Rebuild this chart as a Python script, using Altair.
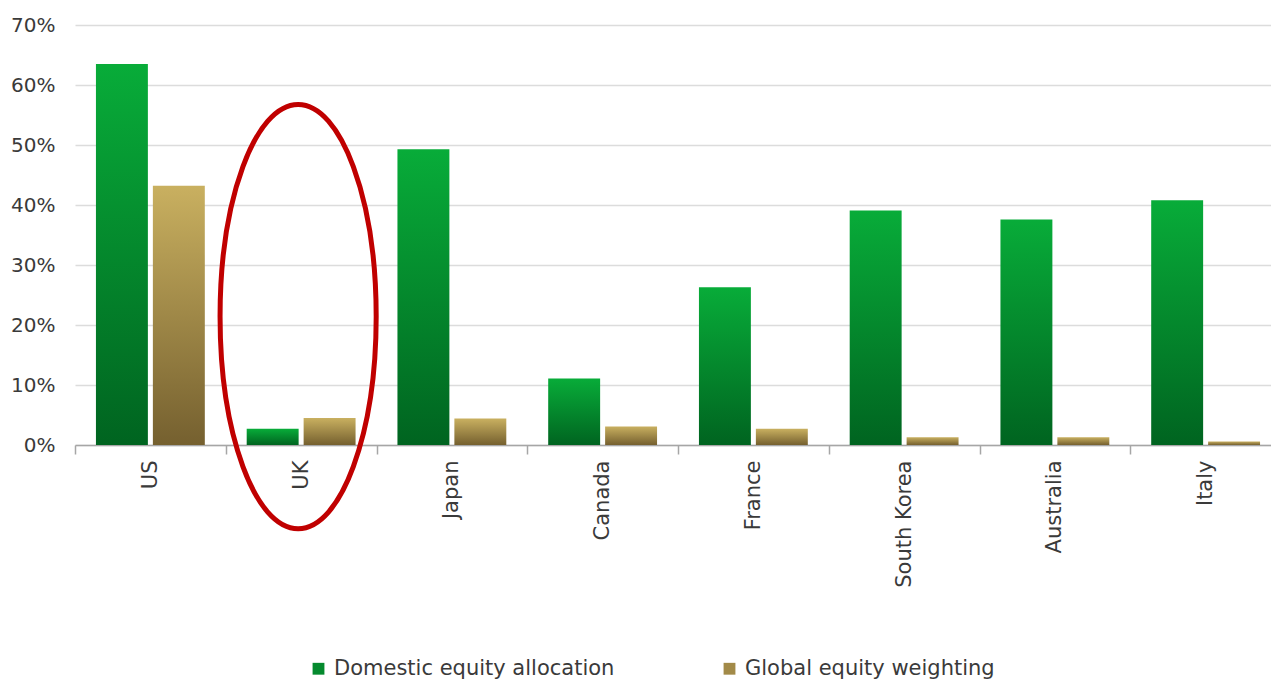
import altair as alt
import pandas as pd

countries = ["US", "UK", "Japan", "Canada", "France", "South Korea", "Australia", "Italy"]
domestic = [63.5, 2.7, 49.3, 11.1, 26.3, 39.1, 37.6, 40.8]
global_w = [43.2, 4.5, 4.4, 3.1, 2.7, 1.3, 1.3, 0.6]
series = ["Domestic equity allocation", "Global equity weighting"]
y_ticks = [0, 10, 20, 30, 40, 50, 60, 70]

# highlight ellipse annotation
highlight_country = ["UK"]
highlight_center = [21.4]

rows = []
for c, d, g in zip(countries, domestic, global_w):
    rows.append({"country": c, "series": series[0], "value": d})
    rows.append({"country": c, "series": series[1], "value": g})
df = pd.DataFrame(rows)
hl = pd.DataFrame({"country": highlight_country, "value": highlight_center})

FONT = "DejaVu Sans"
TXT = "#3a3a3a"

green_grad = alt.Gradient(
    gradient="linear",
    stops=[alt.GradientStop(color="#08AC39", offset=0),
           alt.GradientStop(color="#006420", offset=1)],
    x1=0, x2=0, y1=0, y2=1)
tan_grad = alt.Gradient(
    gradient="linear",
    stops=[alt.GradientStop(color="#C9B060", offset=0),
           alt.GradientStop(color="#75602F", offset=1)],
    x1=0, x2=0, y1=0, y2=1)

x_enc = alt.X("country:N", sort=countries, title=None,
              scale=alt.Scale(range=[0, 1206], paddingInner=0, paddingOuter=0),
              axis=alt.Axis(labelAngle=270, labelAlign="right", labelBaseline="middle",
                            labelFontSize=21, labelFont=FONT, labelColor=TXT,
                            labelPadding=6, tickBand="extent", tickSize=9,
                            tickColor="#A6A6A6", domainColor="#A6A6A6",
                            domainWidth=1.5, tickWidth=1.5, grid=False))
y_enc = alt.Y("value:Q", title=None,
              scale=alt.Scale(domain=[0, 70], nice=False),
              axis=alt.Axis(values=y_ticks, labelExpr="datum.value + '%'",
                            labelFontSize=20, labelFont=FONT, labelColor=TXT,
                            labelPadding=20, ticks=False, domain=False,
                            gridColor="#DCDCDC", gridWidth=1.5))
xo_enc = alt.XOffset("series:N", sort=series,
                     scale=alt.Scale(domain=series, paddingInner=0.0877, paddingOuter=0.368))

base = alt.Chart(df)

dom_bars = base.transform_filter(alt.datum.series == series[0]).mark_bar(
    fill=green_grad).encode(x=x_enc, xOffset=xo_enc, y=y_enc)
glob_bars = base.transform_filter(alt.datum.series == series[1]).mark_bar(
    fill=tan_grad).encode(x=x_enc, xOffset=xo_enc, y=y_enc)

legend_layer = base.mark_bar(opacity=0).encode(
    x=x_enc, xOffset=xo_enc, y=y_enc,
    color=alt.Color("series:N", sort=series,
                    scale=alt.Scale(domain=series, range=["#058A2E", "#A28A48"]),
                    legend=alt.Legend(title=None, orient="none", direction="horizontal",
                                      legendX=233, legendY=633, symbolType="square",
                                      symbolSize=140, symbolOpacity=1, symbolStrokeWidth=0,
                                      labelFontSize=21, labelFont=FONT, labelColor=TXT,
                                      labelOffset=5, labelLimit=0, columnPadding=104)))

ellipse_path = "M -0.368 0 A 0.368 1 0 1 0 0.368 0 A 0.368 1 0 1 0 -0.368 0 Z"
ellipse = alt.Chart(hl).mark_point(
    shape=ellipse_path, size=180000, filled=False, stroke="#C00000",
    strokeWidth=5, opacity=1, xOffset=-3).encode(x=x_enc, y=y_enc)

chart = alt.layer(legend_layer, dom_bars, glob_bars, ellipse).properties(
    width=1196, height=420,
    background="white",
    autosize=alt.AutoSizeParams(type="none"),
    padding={"left": 75, "top": 25, "right": 0, "bottom": 237},
).configure_view(stroke="transparent", strokeWidth=0, strokeOpacity=0)

chart.save("out.html", embed_options={"renderer": "svg", "actions": False})
